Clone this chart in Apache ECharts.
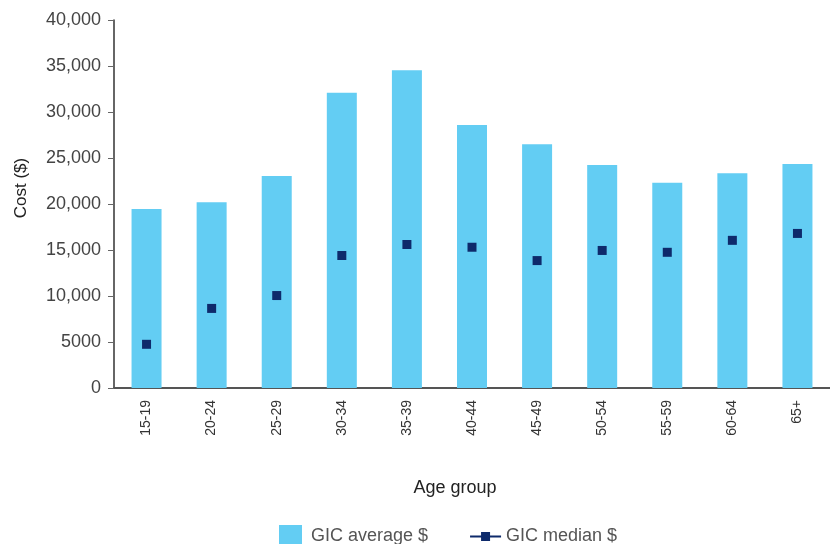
<!DOCTYPE html>
<html>
<head>
<meta charset="utf-8">
<script src="https://cdn.jsdelivr.net/npm/echarts@6/dist/echarts.min.js"></script>
<style>
  html, body { margin: 0; padding: 0; background: #fff; }
  #main { width: 830px; height: 544px; }
</style>
</head>
<body>
<div id="main"></div>
<script>
var ageGroups = ['15-19', '20-24', '25-29', '30-34', '35-39', '40-44', '45-49', '50-54', '55-59', '60-64', '65+'];
var gicAverage = [19450, 20200, 23050, 32100, 34550, 28600, 26500, 24250, 22300, 23350, 24350];
var gicMedian = [4750, 8650, 10050, 14400, 15600, 15300, 13850, 14950, 14750, 16050, 16800];

var font = '"Liberation Sans", Arial, sans-serif';

function fmt(v) {
  if (v === 0) return '0';
  if (v < 10000) return String(v);
  return v.toLocaleString('en-US');
}

var myChart = echarts.init(document.getElementById('main'));
myChart.setOption({
  animation: false,
  textStyle: { fontFamily: font },
  grid: { left: 114, right: 0, top: 20, bottom: 156 },
  legend: {
    left: 274,
    top: 520,
    itemGap: 42,
    itemWidth: 31,
    itemHeight: 23,
    symbolKeepAspect: true,
    textStyle: { fontSize: 18, color: '#555', fontFamily: font, padding: [7, 0, 0, 0] },
    data: [
      { name: 'GIC average $', icon: 'path://M0,0H24V24H0Z', itemStyle: { color: '#63cdf3' } },
      { name: 'GIC median $', icon: 'path://M0,3.5H11V0H20V3.5H31V5.5H20V9H11V5.5H0Z', itemStyle: { color: '#0e2a6b' } }
    ]
  },
  xAxis: {
    type: 'category',
    data: ageGroups,
    name: 'Age group',
    nameLocation: 'middle',
    nameGap: 91,
    nameTextStyle: { fontSize: 18, color: '#222', fontFamily: font, padding: [0, 34, 0, 0] },
    axisLine: { lineStyle: { color: '#555', width: 2 } },
    axisTick: { inside: true, length: 8, lineStyle: { color: '#333', width: 1.5 } },
    axisLabel: { rotate: 90, fontSize: 14, color: '#333', margin: 12, fontFamily: font }
  },
  yAxis: {
    type: 'value',
    min: 0,
    max: 40000,
    interval: 5000,
    name: 'Cost ($)',
    nameLocation: 'middle',
    nameGap: 84,
    nameTextStyle: { fontSize: 17, color: '#222', fontFamily: font, padding: [0, 0, 0, 32] },
    splitLine: { show: false },
    axisLine: { show: true, lineStyle: { color: '#333', width: 1.5 } },
    axisTick: { show: true, length: 6, lineStyle: { color: '#666' } },
    axisLabel: { fontSize: 18, color: '#444', margin: 13, fontFamily: font, formatter: fmt }
  },
  series: [
    {
      name: 'GIC average $',
      type: 'bar',
      data: gicAverage,
      barWidth: 30,
      itemStyle: { color: '#63cdf3' }
    },
    {
      name: 'GIC median $',
      type: 'line',
      data: gicMedian,
      symbol: 'rect',
      symbolSize: 9,
      itemStyle: { color: '#0e2a6b' },
      lineStyle: { opacity: 0 },
      z: 3
    }
  ]
});
</script>
</body>
</html>
